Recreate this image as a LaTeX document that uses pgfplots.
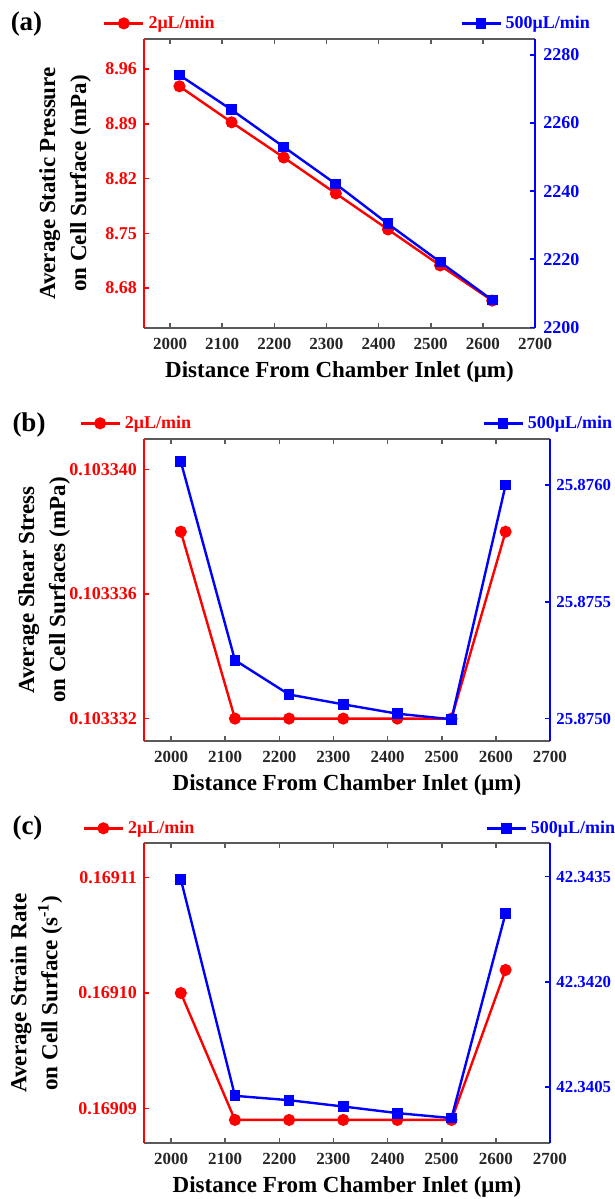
\documentclass[border=0pt]{standalone}
\usepackage{pgfplots}
\pgfplotsset{compat=1.18}
\usepackage{pgfplotstable}
\usepackage{fontspec}
\setmainfont{Liberation Serif}
\usepackage{xfp}
\definecolor{axgray}{RGB}{90,90,90}
\definecolor{myred}{RGB}{255,0,0}
\definecolor{myblue}{RGB}{0,0,255}
\newcommand{\tickfont}{\bfseries\fontsize{8.5}{10}\selectfont}
\newcommand{\ytickfont}{\bfseries\fontsize{9}{10}\selectfont}
\newcommand{\rtickfont}{\bfseries\fontsize{8.4}{10}\selectfont}
\newcommand{\labfont}{\bfseries\fontsize{11.5}{15.5}\selectfont}
\newcommand{\legfont}{\bfseries\fontsize{9}{10}\selectfont}

\pgfplotstableread{
x red blue
2018 8.938 2274.1
2118 8.892 2263.9
2218 8.847 2253.0
2318 8.801 2242.1
2418 8.755 2230.4
2518 8.709 2219.2
2618 8.664 2208.0
}\tabA
\pgfplotstableread{
x red blue
2018 0.103338 25.876100
2118 0.103332 25.875250
2218 0.103332 25.875103
2318 0.103332 25.875061
2418 0.103332 25.875021
2518 0.103332 25.874997
2618 0.103338 25.876000
}\tabB
\pgfplotstableread{
x red blue
2018 0.169100 42.343462
2118 0.169089 42.340377
2218 0.169089 42.340315
2318 0.169089 42.340225
2418 0.169089 42.340131
2518 0.169089 42.340060
2618 0.169102 42.342979
}\tabC

\pgfplotsset{
  base/.style={
    scale only axis, anchor=south west,
    xmin=1950, xmax=2700,
    xtick={2000,2100,2200,2300,2400,2500,2600,2700},
    tick align=inside,
    major tick length=2.5pt,
    /pgf/number format/assume math mode=true,
    /pgf/number format/1000 sep={},
    xticklabel style={font=\tickfont},
    legend image code/.code={\draw[mark repeat=2,mark phase=2,##1] plot coordinates {(0pt,0pt) (9.75pt,0pt) (19.5pt,0pt)};},
  },
  leftax/.style={base,
    axis x line*=box, axis y line*=left,
    x axis line style={axgray, line width=0.8pt},
    y axis line style={myred, line width=0.8pt},
    xtick style={axgray, line width=0.8pt},
    ytick style={myred, line width=0.8pt},
    yticklabel style={myred, font=\ytickfont},
    xticklabel style={black!85, yshift=-1.5pt},
    xlabel style={at={(axis description cs:0.5,0)}, anchor=center, yshift=-22pt, font=\labfont},
    ylabel style={anchor=center, align=center, font=\labfont},
    legend style={draw=none, fill=none, anchor=west, font=\legfont, text=myred, inner sep=0pt},
  },
  rightax/.style={base,
    axis x line=none, axis y line*=right,
    y axis line style={myblue, line width=0.8pt},
    ytick style={myblue, line width=0.8pt},
    yticklabel style={myblue, font=\rtickfont, xshift=-0.3pt},
    legend style={draw=none, fill=none, anchor=west, font=\legfont, text=myblue, inner sep=0pt},
  },
  redser/.style={myred, line width=1.2pt, mark=*, mark size=2.4pt, mark options={solid}},
  blueser/.style={myblue, line width=1.2pt, mark=square*, mark size=2.1pt, mark options={solid}},
}

\begin{document}
\begin{tikzpicture}
\useasboundingbox (0pt,0pt) rectangle (307.5pt,-599.5pt);

% ---------- (a) ----------
\node[font=\bfseries\fontsize{13.5}{15}\selectfont] at (13.25pt,-12pt) {(a)};
\begin{axis}[leftax, at={(72pt,-164pt)}, width=195.5pt, height=144.5pt,
  ymin=8.629, ymax=8.9985,
  ytick={8.68,8.75,8.82,8.89,8.96},
  yticklabel style={/pgf/number format/.cd, fixed, fixed zerofill, precision=2},
  xlabel={Distance From Chamber Inlet (μm)},
  ylabel={Average Static Pressure\\on Cell Surface (mPa)},
  ylabel style={at={(axis description cs:-0.202,0.5)}},
  legend style={at={(axis description cs:-0.1056,1.054)}},
]
\addplot[redser] table[x=x,y=red] {\tabA};
\addlegendentry{2μL/min}
\end{axis}
\begin{axis}[rightax, at={(72pt,-164pt)}, width=195.5pt, height=144.5pt,
  ymin=2199.8, ymax=2284.7,
  ytick={2200,2220,2240,2260,2280},
  yticklabel style={font=\ytickfont, xshift=1pt},
  legend style={at={(axis description cs:0.808,1.054)}},
]
\addplot[blueser] table[x=x,y=blue] {\tabA};
\addlegendentry{500μL/min}
\end{axis}

% ---------- (b) ----------
\node[font=\bfseries\fontsize{13.5}{15}\selectfont] at (14.5pt,-212.5pt) {(b)};
\begin{axis}[leftax, at={(72pt,-370.5pt)}, width=203pt, height=151pt,
  y coord trafo/.code={\edef\pgfmathresult{\fpeval{(#1-0.10333)*1000000}}},
  ymin=0.10333128, ymax=0.103340975,
  ytick={0.103332,0.103336,0.103340},
  yticklabels={0.103332,0.103336,0.103340},
  xlabel={Distance From Chamber Inlet (μm)},
  ylabel={Average Shear Stress\\on Cell Surfaces (mPa)},
  ylabel style={at={(axis description cs:-0.246,0.5)}},
  legend style={at={(axis description cs:-0.160,1.052)}},
]
\addplot[redser] table[x=x,y=red] {\tabB};
\addlegendentry{2μL/min}
\end{axis}
\begin{axis}[rightax, at={(72pt,-370.5pt)}, width=203pt, height=151pt,
  y coord trafo/.code={\edef\pgfmathresult{\fpeval{(#1-25.875)*10000}}},
  ymin=25.874904, ymax=25.876197,
  ytick={25.8750,25.8755,25.8760},
  yticklabels={25.8750,25.8755,25.8760},
  legend style={at={(axis description cs:0.8325,1.052)}},
]
\addplot[blueser] table[x=x,y=blue] {\tabB};
\addlegendentry{500μL/min}
\end{axis}

% ---------- (c) ----------
\node[font=\bfseries\fontsize{13.5}{15}\selectfont] at (13.75pt,-414pt) {(c)};
\begin{axis}[leftax, at={(72pt,-571.5pt)}, width=203pt, height=150pt,
  y coord trafo/.code={\edef\pgfmathresult{\fpeval{(#1-0.16909)*1000000}}},
  ymin=0.169087, ymax=0.169113,
  ytick={0.16909,0.16910,0.16911},
  yticklabels={0.16909,0.16910,0.16911},
  xlabel={Distance From Chamber Inlet (μm)},
  ylabel={Average Strain Rate\\on Cell Surface (s\textsuperscript{-1})},
  ylabel style={at={(axis description cs:-0.265,0.5)}},
  legend style={at={(axis description cs:-0.152,1.049)}},
]
\addplot[redser] table[x=x,y=red] {\tabC};
\addlegendentry{2μL/min}
\end{axis}
\begin{axis}[rightax, at={(72pt,-571.5pt)}, width=203pt, height=150pt,
  y coord trafo/.code={\edef\pgfmathresult{\fpeval{(#1-42.34)*10000}}},
  ymin=42.339705, ymax=42.343978,
  ytick={42.3405,42.3420,42.3435},
  yticklabels={42.3405,42.3420,42.3435},
  legend style={at={(axis description cs:0.840,1.049)}},
]
\addplot[blueser] table[x=x,y=blue] {\tabC};
\addlegendentry{500μL/min}
\end{axis}
\end{tikzpicture}
\end{document}
